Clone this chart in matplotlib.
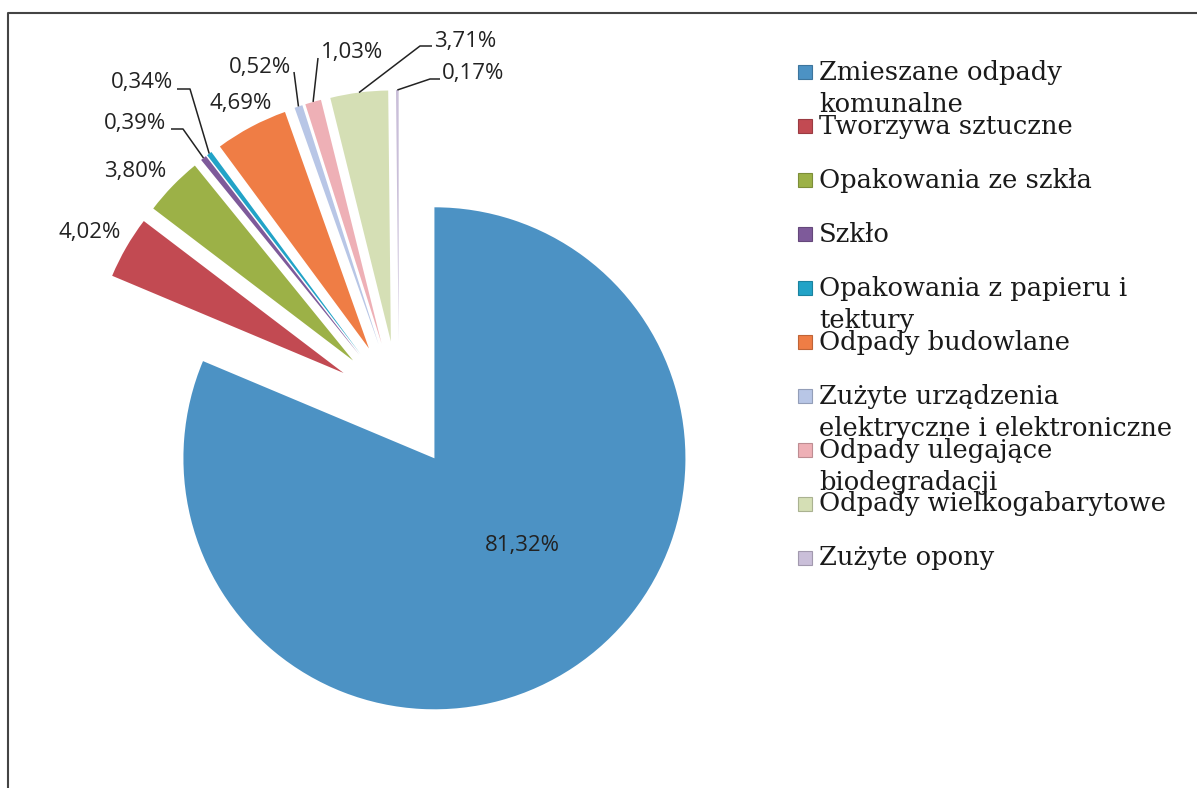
import numpy as np
import matplotlib
matplotlib.use("Agg")
import matplotlib.pyplot as plt
from matplotlib.patches import Rectangle
import matplotlib.colors as mcolors

# Dane
kategorie = [
    "Zmieszane odpady\nkomunalne",
    "Tworzywa sztuczne",
    "Opakowania ze szkła",
    "Szkło",
    "Opakowania z papieru i\ntektury",
    "Odpady budowlane",
    "Zużyte urządzenia\nelektryczne i elektroniczne",
    "Odpady ulegające\nbiodegradacji",
    "Odpady wielkogabarytowe",
    "Zużyte opony",
]
udzialy = [81.32, 4.02, 3.80, 0.39, 0.34, 4.69, 0.52, 1.03, 3.71, 0.17]
kolory = ["#4c92c4", "#c24a52", "#9cb147", "#7e5a9a", "#22a3c7",
          "#ef7d45", "#b8c6e6", "#eeb0b6", "#d5dfb5", "#cabfd9"]

# Układ (piksele, y liczone od góry)
W, H = 1197, 788
SRODEK = (399, 405)
PROMIEN = 251
ODSUNIECIE = 64  # w pikselach (explode w matplotlib jest bezwzględny)

# pozycje etykiet: (x, y, punkty linii odniesienia od strony tekstu)
etykiety_poz = [
    (522, 545, None),
    (90, 232, None),
    (135, 171, None),
    (135, 123, [(171, 129), (183, 129)]),
    (142, 82, [(177, 89), (190, 89)]),
    (241, 103, None),
    (260, 67, [(294, 72)]),
    (352, 52, [(318, 58)]),
    (465, 41, [(432, 46), (420, 46)]),
    (473, 73, [(440, 79), (430, 79)]),
]

LEG_X = 798
LEG_Y0 = 72
LEG_DY = 54
LEG_LINIA = 32


def yg(y):
    # z pikseli od góry na współrzędne osi
    return H - y


fig = plt.figure(figsize=(W / 100, H / 100), dpi=100)
ax = fig.add_axes([0, 0, 1, 1])

wedges, _ = ax.pie(
    udzialy,
    colors=kolory,
    startangle=90,
    counterclock=False,
    radius=PROMIEN,
    center=(SRODEK[0], yg(SRODEK[1])),
    explode=[ODSUNIECIE] * len(udzialy),
    wedgeprops=dict(linewidth=0),
    frame=True,
)
ax.set_xlim(0, W)
ax.set_ylim(0, H)
ax.set_aspect("equal")
ax.axis("off")

# etykiety procentowe
for w, v, (tx, ty, linia) in zip(wedges, udzialy, etykiety_poz):
    tekst = f"{v:.2f}%".replace(".", ",")
    ax.text(tx, yg(ty), tekst, ha="center", va="center",
            fontsize=16, family="Open Sans", color="#222222")
    if linia:
        kat = np.deg2rad((w.theta1 + w.theta2) / 2)
        kx = w.center[0] + w.r * np.cos(kat)
        ky = w.center[1] + w.r * np.sin(kat)
        xs = [p[0] for p in linia] + [kx]
        ys = [yg(p[1]) for p in linia] + [ky]
        ax.plot(xs, ys, color="#222222", lw=1.1, solid_capstyle="butt")

# legenda
for i, (nazwa, kol) in enumerate(zip(kategorie, kolory)):
    y = LEG_Y0 + i * LEG_DY
    ciemny = tuple(c * 0.8 for c in mcolors.to_rgb(kol))
    ax.add_patch(Rectangle((LEG_X, yg(y) - 7), 14, 14, facecolor=kol,
                           edgecolor=ciemny, lw=0.8))
    for j, linia in enumerate(nazwa.split("\n")):
        ax.text(LEG_X + 21, yg(y + j * LEG_LINIA), linia, ha="left",
                va="center", fontsize=18.5, family="DejaVu Serif",
                color="#1a1a1a")

# ramka wykresu (lewa i górna krawędź)
ax.plot([8, 8, W + 5], [-5, yg(13), yg(13)], color="#444444", lw=1.5)

fig.savefig("out.png", dpi=100)
